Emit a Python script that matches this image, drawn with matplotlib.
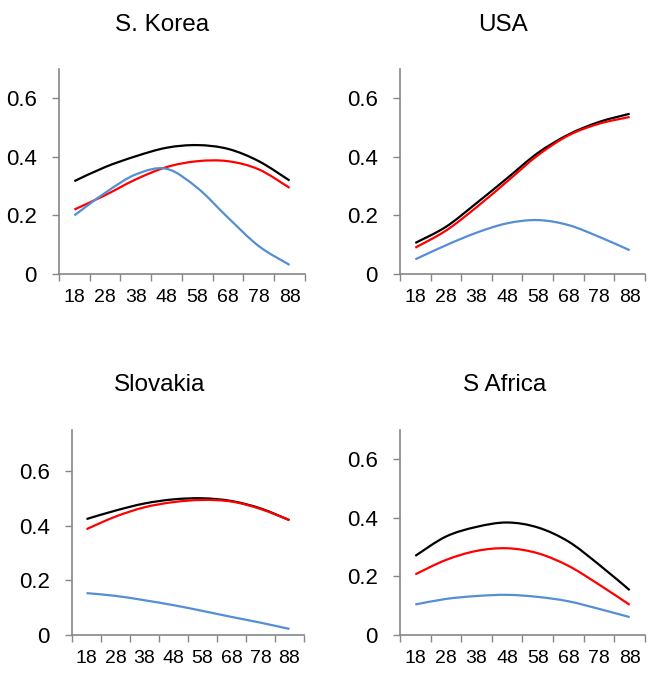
import matplotlib
matplotlib.use("Agg")
import matplotlib.pyplot as plt
from matplotlib.path import Path
from matplotlib.patches import PathPatch
import numpy as np

plt.rcParams['font.family'] = ['Liberation Sans', 'DejaVu Sans']

ages = ['18', '28', '38', '48', '58', '68', '78', '88']

# S. Korea
korea_black = [0.317, 0.365, 0.402, 0.431, 0.440, 0.427, 0.385, 0.319]
korea_red = [0.220, 0.269, 0.323, 0.365, 0.385, 0.385, 0.357, 0.294]
korea_blue = [0.200, 0.277, 0.340, 0.359, 0.294, 0.192, 0.095, 0.031]

# USA
usa_black = [0.106, 0.161, 0.242, 0.327, 0.413, 0.476, 0.519, 0.547]
usa_red = [0.090, 0.148, 0.228, 0.316, 0.405, 0.473, 0.513, 0.536]
usa_blue = [0.050, 0.098, 0.141, 0.173, 0.184, 0.167, 0.127, 0.081]

# Slovakia
slovakia_black = [0.424, 0.455, 0.481, 0.496, 0.500, 0.490, 0.463, 0.420]
slovakia_red = [0.387, 0.433, 0.467, 0.486, 0.494, 0.488, 0.461, 0.420]
slovakia_blue = [0.153, 0.143, 0.127, 0.109, 0.088, 0.066, 0.045, 0.022]

# S Africa
safrica_black = [0.270, 0.336, 0.369, 0.384, 0.367, 0.319, 0.240, 0.153]
safrica_red = [0.207, 0.256, 0.287, 0.296, 0.279, 0.236, 0.172, 0.103]
safrica_blue = [0.104, 0.123, 0.133, 0.137, 0.130, 0.115, 0.089, 0.061]

colores = ['black', '#ff0000', '#558ed5']
eje_gris = '#868686'


def linea_suave(ax, y, color):
    # curva suavizada tipo Excel (Bezier por Catmull-Rom)
    x = np.arange(1, len(y) + 1, dtype=float)
    pts = np.column_stack([x, y])
    ext = np.vstack([pts[0], pts, pts[-1]])
    verts = [pts[0]]
    codes = [Path.MOVETO]
    for i in range(1, len(ext) - 2):
        p0, p1, p2, p3 = ext[i - 1], ext[i], ext[i + 1], ext[i + 2]
        c1 = p1 + (p2 - p0) / 6
        c2 = p2 - (p3 - p1) / 6
        verts += [c1, c2, p2]
        codes += [Path.CURVE4] * 3
    patch = PathPatch(Path(verts, codes), facecolor='none', edgecolor=color,
                      lw=1.6, capstyle='butt', joinstyle='round')
    ax.add_patch(patch)


def panel(rect, titulo, series, ymax, titulo_xy):
    ax = fig.add_axes(rect)
    for y, c in zip(series, colores):
        linea_suave(ax, y, c)
    ax.set_xlim(0.5, len(ages) + 0.5)
    ax.set_ylim(0, ymax)
    ax.set_xticks(np.arange(0.5, len(ages) + 1, 1.0))
    ax.set_xticklabels([])
    ax.set_xticks(np.arange(1, len(ages) + 1), minor=True)
    ax.set_xticklabels(ages, minor=True)
    ax.tick_params(axis='x', which='major', length=5, width=1, color=eje_gris,
                   direction='out')
    ax.tick_params(axis='x', which='minor', length=0, pad=11, labelsize=14)
    ax.set_yticks([0, 0.2, 0.4, 0.6])
    ax.set_yticklabels(['0', '0.2', '0.4', '0.6'])
    ax.tick_params(axis='y', length=5, width=1, color=eje_gris, direction='out',
                   pad=11, labelsize=16)
    for s in ['top', 'right']:
        ax.spines[s].set_visible(False)
    for s in ['left', 'bottom']:
        ax.spines[s].set_color(eje_gris)
        ax.spines[s].set_linewidth(1.2)
    ax.patch.set_alpha(0)
    fig.text(titulo_xy[0] / 654, 1 - titulo_xy[1] / 676, titulo, ha='center',
             va='center', fontsize=17.5)
    return ax


fig = plt.figure(figsize=(6.54, 6.76), dpi=100)

panel([0.0902, 0.5947, 0.3761, 0.3033], 'S. Korea',
      [korea_black, korea_red, korea_blue], 0.7, (162, 25))
panel([0.6116, 0.5947, 0.3746, 0.3033], 'USA',
      [usa_black, usa_red, usa_blue], 0.7, (503, 25))
panel([0.1101, 0.0607, 0.3547, 0.3033], 'Slovakia',
      [slovakia_black, slovakia_red, slovakia_blue], 0.75, (160, 385))
panel([0.6116, 0.0607, 0.3746, 0.3033], 'S Africa',
      [safrica_black, safrica_red, safrica_blue], 0.7, (505, 385))

fig.savefig('out.png', dpi=100)
